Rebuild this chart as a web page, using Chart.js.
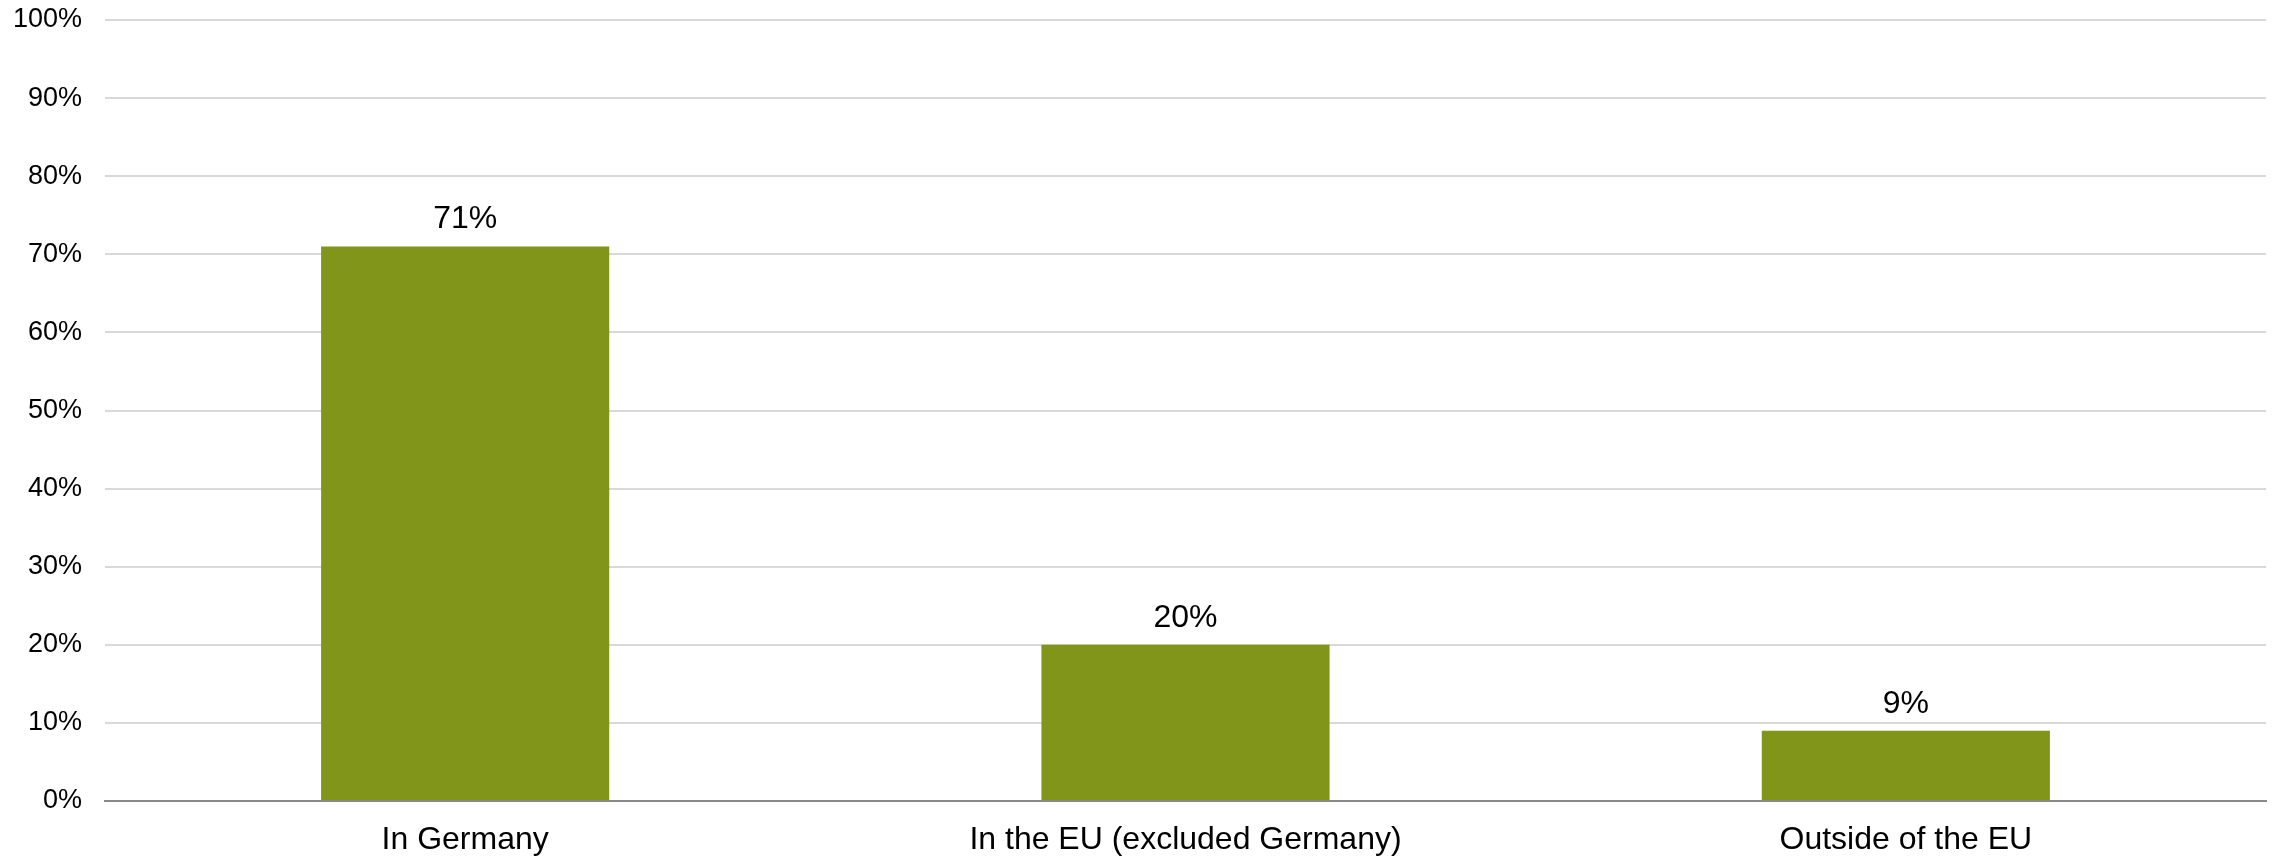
<!DOCTYPE html>
<html>
    <head>
        <meta charset="utf-8">
        <title>Share by location</title>
        <style>
            html, body { margin: 0; padding: 0; background: #ffffff; }
            #wrap { width: 2273px; height: 856px; }
        </style>
    </head>
    <body>
        <div id="wrap"><canvas id="chart" width="2273" height="856"></canvas></div>
        <script src="https://cdn.jsdelivr.net/npm/chart.js"></script>
        <script type="text/javascript">
            var categories = ["In Germany", "In the EU (excluded Germany)", "Outside of the EU"];
            var shares = [71, 20, 9];
            var yTicks = [0, 10, 20, 30, 40, 50, 60, 70, 80, 90, 100];

            // value labels above each bar
            var valueLabels = {
                id: "valueLabels",
                afterDatasetsDraw: function (chart) {
                    var ctx = chart.ctx;
                    var meta = chart.getDatasetMeta(0);
                    ctx.save();
                    ctx.font = "32px 'Liberation Sans', Arial, sans-serif";
                    ctx.fillStyle = "#000000";
                    ctx.textAlign = "center";
                    ctx.textBaseline = "alphabetic";
                    meta.data.forEach(function (bar, i) {
                        ctx.fillText(shares[i] + "%", bar.x, bar.y - 18);
                    });
                    ctx.restore();
                }
            };

            var ctx = document.getElementById("chart");
            var chart = new Chart(ctx, {
                type: "bar",
                data: {
                    labels: categories,
                    datasets: [{
                        data: shares,
                        backgroundColor: "#80951a",
                        barPercentage: 0.4,
                        categoryPercentage: 1.0
                    }]
                },
                options: {
                    responsive: false,
                    animation: false,
                    layout: { padding: { top: 20, right: 7, left: 0, bottom: 0 } },
                    plugins: {
                        legend: { display: false },
                        tooltip: { enabled: false }
                    },
                    scales: {
                        x: {
                            grid: { display: false, drawTicks: false },
                            border: { color: "#898989", width: 2 },
                            ticks: {
                                color: "#000000",
                                padding: 20,
                                font: { family: "'Liberation Sans', Arial, sans-serif", size: 32 }
                            },
                            afterFit: function (scale) {
                                scale.height = 55;
                                scale.paddingLeft = 0;
                                scale.paddingRight = 0;
                            }
                        },
                        y: {
                            min: 0,
                            max: 100,
                            afterBuildTicks: function (scale) {
                                scale.ticks = yTicks.map(function (v) { return { value: v }; });
                            },
                            grid: { color: "#d9d9d9", lineWidth: 2, drawTicks: false },
                            border: { display: false },
                            ticks: {
                                color: "#000000",
                                padding: 23,
                                font: { family: "'Liberation Sans', Arial, sans-serif", size: 27 },
                                callback: function (v) { return v + "%"; }
                            },
                            afterFit: function (scale) {
                                scale.width = 105;
                                scale.paddingTop = 0;
                                scale.paddingBottom = 0;
                            }
                        }
                    }
                },
                plugins: [valueLabels]
            });
        </script>
    </body>
</html>
